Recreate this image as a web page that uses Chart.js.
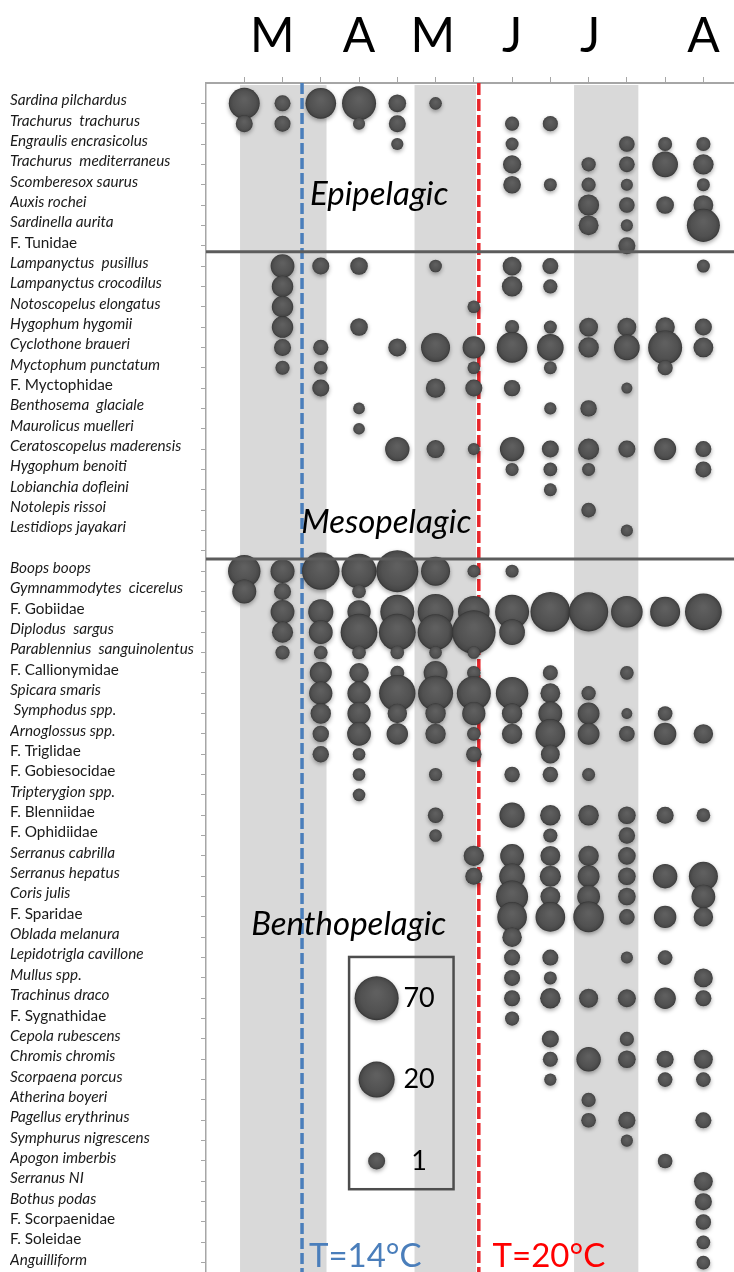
<!DOCTYPE html>
<html>
<head>
<meta charset="utf-8">
<script src="https://cdn.jsdelivr.net/npm/chart.js@4.4.1/dist/chart.umd.min.js"></script>
<style>
  html, body { margin: 0; padding: 0; background: #fff; overflow: hidden; }
  canvas { display: block; }
</style>
</head>
<body>
<canvas id="chart" width="734" height="1272" style="width:734px;height:1272px"></canvas>
<script>
// sampling dates (columns) and month header
const samplings = [1, 2, 3, 4, 5, 6, 7, 8, 9, 10, 11, 12, 13];
const months = ['M', 'A', 'M', 'J', 'J', 'A'];
const monthPos = [1.73, 4.0, 5.93, 8.0, 10.04, 13.0];
// shaded month bands (x from / to)
const bandFrom = [0.89, 5.45, 9.62];
const bandTo = [3.15, 7.06, 11.30];
// temperature thresholds
const tempX = [2.51, 7.13];
const tempLabels = ['T=14°C', 'T=20°C'];
// legend bubbles
const legendValues = [70, 20, 1];

const epiSpecies = ['Sardina pilchardus', 'Trachurus  trachurus', 'Engraulis encrasicolus', 'Trachurus  mediterraneus',
  'Scomberesox saurus', 'Auxis rochei', 'Sardinella aurita', 'F. Tunidae'];
const mesoSpecies = ['Lampanyctus  pusillus', 'Lampanyctus crocodilus', 'Notoscopelus elongatus', 'Hygophum hygomii',
  'Cyclothone braueri', 'Myctophum punctatum', 'F. Myctophidae', 'Benthosema  glaciale', 'Maurolicus muelleri',
  'Ceratoscopelus maderensis', 'Hygophum benoiti', 'Lobianchia dofleini', 'Notolepis rissoi', 'Lestidiops jayakari'];
const benthoSpecies = ['Boops boops', 'Gymnammodytes  cicerelus', 'F. Gobiidae', 'Diplodus  sargus',
  'Parablennius  sanguinolentus', 'F. Callionymidae', 'Spicara smaris', ' Symphodus spp.', 'Arnoglossus spp.',
  'F. Triglidae', 'F. Gobiesocidae', 'Tripterygion spp.', 'F. Blenniidae', 'F. Ophidiidae', 'Serranus cabrilla',
  'Serranus hepatus', 'Coris julis', 'F. Sparidae', 'Oblada melanura', 'Lepidotrigla cavillone', 'Mullus spp.',
  'Trachinus draco', 'F. Sygnathidae', 'Cepola rubescens', 'Chromis chromis', 'Scorpaena porcus', 'Atherina boyeri',
  'Pagellus erythrinus', 'Symphurus nigrescens', 'Apogon imberbis', 'Serranus NI', 'Bothus podas', 'F. Scorpaenidae',
  'F. Soleidae', 'Anguilliform'];

// abundance per species, one value per sampling (0 = absent)
const epiAbund = [
  [9, 0.85, 8.5, 14.5, 1.1, 0.5, 0, 0, 0, 0, 0, 0, 0],
  [1, 0.85, 0, 0.46, 1, 0, 0, 0.64, 0.75, 0, 0, 0, 0],
  [0, 0, 0, 0, 0.47, 0, 0, 0.53, 0, 0, 0.8, 0.62, 0.64],
  [0, 0, 0, 0, 0, 0, 0, 1.2, 0, 0.64, 0.8, 3.9, 1.7],
  [0, 0, 0, 0, 0, 0, 0, 1.1, 0.53, 0.64, 0.46, 0, 0.53],
  [0, 0, 0, 0, 0, 0, 0, 0, 0, 1.9, 0.8, 1.1, 1.55],
  [0, 0, 0, 0, 0, 0, 0, 0, 0, 1.55, 0.46, 0, 12.4],
  [0, 0, 0, 0, 0, 0, 0, 0, 0, 0, 1, 0, 0]
];
const mesoAbund = [
  [0, 2.9, 1, 1.1, 0, 0.5, 0, 1.33, 0.85, 0, 0, 0, 0.53],
  [0, 2, 0, 0, 0, 0, 0, 1.7, 0.64, 0, 0, 0, 0],
  [0, 2, 0, 0, 0, 0, 0.5, 0, 0, 0, 0, 0, 0],
  [0, 2, 0, 1.1, 0, 0, 0, 0.64, 0.53, 1.33, 1.33, 1.46, 1],
  [0, 1, 0.75, 0, 1.17, 6.6, 2.34, 8.5, 4.5, 1.7, 3.9, 14.5, 1.55],
  [0, 0.64, 0.59, 0, 0, 0, 0.5, 0, 0.53, 0, 0, 0.75, 0],
  [0, 0, 1, 0, 0, 1.46, 1, 0.91, 0, 0, 0.39, 0, 0],
  [0, 0, 0, 0.43, 0, 0, 0, 0, 0.47, 0.91, 0, 0, 0],
  [0, 0, 0, 0.43, 0, 0, 0, 0, 0, 0, 0, 0, 0],
  [0, 0, 0, 0, 3.2, 1.17, 0.46, 3.2, 1, 1.9, 1, 2.2, 0.85],
  [0, 0, 0, 0, 0, 0, 0, 0.53, 0.59, 0.53, 0, 0, 0.85],
  [0, 0, 0, 0, 0, 0, 0, 0, 0.53, 0, 0, 0, 0],
  [0, 0, 0, 0, 0, 0, 0, 0, 0, 0.69, 0, 0, 0],
  [0, 0, 0, 0, 0, 0, 0, 0, 0, 0, 0.46, 0, 0]
];
const benthoAbund = [
  [11.3, 3, 24.8, 16.9, 51, 6.6, 0.5, 0.53, 0, 0, 0, 0, 0],
  [3, 1, 0, 0.59, 0, 0, 0, 0, 0, 0, 0, 0, 0],
  [0, 2.9, 3.6, 2.65, 14.5, 19.2, 9.9, 14.5, 35.7, 32.6, 9.9, 7.7, 22.5],
  [0, 1.9, 2.9, 22.5, 22.5, 19.2, 65, 3.9, 0, 0, 0, 0, 0],
  [0, 0.64, 0.59, 0.59, 0.59, 0.5, 0.5, 0, 0, 0, 0, 0, 0],
  [0, 0, 2.2, 1.46, 0.62, 2.9, 0.59, 0, 0.73, 0, 0.59, 0, 0],
  [0, 0, 2.65, 2.65, 21, 16.9, 14.5, 11.3, 1.55, 0.64, 0, 0, 0],
  [0, 0, 1.7, 2.65, 1.46, 1.7, 2.65, 1.7, 2.9, 2.13, 0.38, 0.69, 0],
  [0, 0, 0.91, 2.9, 2, 1.7, 0.59, 1.7, 7.3, 2.13, 0.8, 2.34, 1.46],
  [0, 0, 0.91, 0.5, 0, 0, 0.78, 0, 1.33, 0, 0, 0, 0],
  [0, 0, 0, 0.5, 0, 0.55, 0, 0.78, 0.78, 0.53, 0, 0, 0],
  [0, 0, 0, 0.5, 0, 0, 0, 0, 0, 0, 0, 0, 0],
  [0, 0, 0, 0, 0, 0.78, 0, 3.6, 1.7, 1.7, 1.1, 1, 0.59],
  [0, 0, 0, 0, 0, 0.5, 0, 0, 0.64, 0, 0.91, 0, 0],
  [0, 0, 0, 0, 0, 0, 1.7, 2.9, 1.55, 1.7, 1.1, 0, 0],
  [0, 0, 0, 0, 0, 0, 1, 3.9, 1.9, 2.13, 1.1, 3.2, 6.6],
  [0, 0, 0, 0, 0, 0, 0, 10.6, 1.55, 2.49, 1.1, 0, 2.9],
  [0, 0, 0, 0, 0, 0, 0, 7.3, 7.3, 8.5, 0.8, 2.34, 1.46],
  [0, 0, 0, 0, 0, 0, 0, 1.46, 0, 0, 0, 0, 0],
  [0, 0, 0, 0, 0, 0, 0, 0.85, 0.85, 0, 0.46, 0.69, 0],
  [0, 0, 0, 0, 0, 0, 0, 0.85, 0.53, 0, 0, 0, 1.33],
  [0, 0, 0, 0, 0, 0, 0, 0.85, 1.7, 1.37, 1.17, 2, 0.85],
  [0, 0, 0, 0, 0, 0, 0, 0.64, 0, 0, 0, 0, 0],
  [0, 0, 0, 0, 0, 0, 0, 0, 1, 0, 0.64, 0, 0],
  [0, 0, 0, 0, 0, 0, 0, 0, 0.73, 3.2, 1.1, 1, 1.33],
  [0, 0, 0, 0, 0, 0, 0, 0, 0.47, 0, 0, 0.69, 0.69],
  [0, 0, 0, 0, 0, 0, 0, 0, 0, 0.64, 0, 0, 0],
  [0, 0, 0, 0, 0, 0, 0, 0, 0, 0.69, 1, 0, 0.85],
  [0, 0, 0, 0, 0, 0, 0, 0, 0, 0, 0.46, 0, 0],
  [0, 0, 0, 0, 0, 0, 0, 0, 0, 0, 0, 0.69, 0],
  [0, 0, 0, 0, 0, 0, 0, 0, 0, 0, 0, 0, 1.33],
  [0, 0, 0, 0, 0, 0, 0, 0, 0, 0, 0, 0, 1],
  [0, 0, 0, 0, 0, 0, 0, 0, 0, 0, 0, 0, 0.78],
  [0, 0, 0, 0, 0, 0, 0, 0, 0, 0, 0, 0, 0.59],
  [0, 0, 0, 0, 0, 0, 0, 0, 0, 0, 0, 0, 0.59]
];

// rows: epi, meso, one empty row, bentho
const rowLabels = [...epiSpecies, ...mesoSpecies, '', ...benthoSpecies];
const rowAbund = [...epiAbund, ...mesoAbund, [], ...benthoAbund];

// bubble radius from abundance (log scale, matches the 1 / 20 / 70 key)
function radius(v) {
  return 8.5 + 3.18 * Math.log(v);
}

const points = [];
rowAbund.forEach((vals, i) => {
  vals.forEach((v, j) => {
    if (v > 0) points.push({x: samplings[j], y: i + 1, r: radius(v), v: v});
  });
});

const legendX = 4.46;
const legendRows = [45, 49, 53];
const legendPoints = legendValues.map((v, i) => ({x: legendX, y: legendRows[i], r: radius(v), v: v}));

function bubbleFill(c) {
  const chart = c.chart;
  const raw = c.raw;
  if (!raw || !chart.chartArea || !chart.scales.x) return '#4e4e4e';
  const cx = chart.scales.x.getPixelForValue(raw.x);
  const cy = chart.scales.y.getPixelForValue(raw.y);
  const r = raw.r;
  if (!isFinite(cx) || !isFinite(cy) || !isFinite(r)) return '#4e4e4e';
  const g = chart.ctx.createRadialGradient(cx, cy - r * 0.25, r * 0.1, cx, cy, r);
  g.addColorStop(0, '#5f5f5f');
  g.addColorStop(0.7, '#515151');
  g.addColorStop(0.9, '#474747');
  g.addColorStop(1, '#353535');
  return g;
}

const decor = {
  id: 'decor',
  beforeDatasetsDraw(chart) {
    const {ctx, chartArea: a, scales: {x, y}} = chart;
    ctx.save();
    ctx.fillStyle = '#d9d9d9';
    bandFrom.forEach((f, i) => {
      const x0 = x.getPixelForValue(f), x1 = x.getPixelForValue(bandTo[i]);
      ctx.fillRect(x0, a.top + 2, x1 - x0, a.bottom - a.top);
    });
    // temperature dashed lines
    ctx.lineWidth = 3.5;
    [['#4a7ebb', [11, 4]], ['#e8262b', [12, 4]]].forEach(([col, dash], i) => {
      ctx.strokeStyle = col;
      ctx.setLineDash(dash);
      const px = x.getPixelForValue(tempX[i]);
      ctx.beginPath();
      ctx.moveTo(px, a.top);
      ctx.lineTo(px, a.bottom);
      ctx.stroke();
    });
    ctx.restore();
    ctx.save();
    ctx.shadowColor = 'rgba(0,0,0,0.35)';
    ctx.shadowBlur = 4;
    ctx.shadowOffsetY = 2;
  },
  afterDatasetsDraw(chart) {
    const {ctx, chartArea: a, scales: {x, y}} = chart;
    ctx.restore();
    ctx.save();
    // group separators
    ctx.strokeStyle = '#5c5c5c';
    ctx.lineWidth = 3;
    [8.3, 23.4].forEach(v => {
      const py = y.getPixelForValue(v);
      ctx.beginPath();
      ctx.moveTo(a.left, py);
      ctx.lineTo(a.right, py);
      ctx.stroke();
    });
    // month header
    ctx.fillStyle = '#000';
    ctx.font = '48px Lato';
    ctx.textAlign = 'center';
    ctx.textBaseline = 'alphabetic';
    months.forEach((m, i) => ctx.fillText(m, x.getPixelForValue(monthPos[i]), a.top - 31));
    // group names
    ctx.textAlign = 'left';
    ctx.font = 'italic 33px Lato';
    ctx.fillText('Epipelagic', x.getPixelForValue(2.72), y.getPixelForValue(6.0));
    ctx.fillText('Mesopelagic', x.getPixelForValue(2.49), y.getPixelForValue(22.14));
    ctx.fillText('Benthopelagic', x.getPixelForValue(1.18), y.getPixelForValue(41.9));
    // temperature labels
    ctx.font = '33px Lato';
    ctx.fillStyle = '#4a7ebb';
    ctx.fillText(tempLabels[0], x.getPixelForValue(2.69), y.getPixelForValue(58.2));
    ctx.fillStyle = '#ff0000';
    ctx.fillText(tempLabels[1], x.getPixelForValue(7.49), y.getPixelForValue(58.2));
    // size key box
    ctx.strokeStyle = '#4d4d4d';
    ctx.lineWidth = 2.5;
    const bx0 = x.getPixelForValue(3.74), bx1 = x.getPixelForValue(6.47);
    const by0 = y.getPixelForValue(42.97), by1 = y.getPixelForValue(54.39);
    ctx.strokeRect(bx0, by0, bx1 - bx0, by1 - by0);
    ctx.fillStyle = '#000';
    ctx.font = '27px Lato';
    ctx.textAlign = 'center';
    ctx.textBaseline = 'middle';
    legendValues.forEach((v, i) => ctx.fillText(String(v), x.getPixelForValue(5.57), y.getPixelForValue(legendRows[i])));
    ctx.restore();
  }
};

new Chart(document.getElementById('chart'), {
  type: 'bubble',
  data: {
    datasets: [
      {data: points, backgroundColor: bubbleFill, borderWidth: 0, clip: false},
      {data: legendPoints, backgroundColor: bubbleFill, borderWidth: 0, clip: false}
    ]
  },
  options: {
    responsive: false,
    maintainAspectRatio: false,
    animation: false,
    devicePixelRatio: 1,
    layout: {autoPadding: false, padding: {left: 10, top: 0, right: 0, bottom: 0}},
    plugins: {legend: {display: false}, tooltip: {enabled: false}},
    scales: {
      x: {
        type: 'linear', position: 'top', min: 0, max: 13.8,
        afterBuildTicks: s => { s.ticks = samplings.map(v => ({value: v})); },
        afterFit: s => { s.height = 83; s.paddingLeft = 0; s.paddingRight = 0; },
        ticks: {display: false},
        grid: {drawOnChartArea: false, drawTicks: true, tickLength: 6, color: '#a6a6a6', lineWidth: 1},
        border: {display: true, color: '#a6a6a6', width: 2}
      },
      y: {
        type: 'linear', reverse: true, min: 0, max: 58.46,
        afterBuildTicks: s => { s.ticks = rowLabels.map((l, i) => ({value: i + 1})); },
        afterFit: s => { s.width = 196; s.paddingTop = 0; s.paddingBottom = 0; },
        ticks: {
          autoSkip: false, crossAlign: 'far', labelOffset: -3, padding: 8,
          color: '#1a1a1a',
          callback: v => rowLabels[v - 1] || '',
          font: c => {
            const lbl = c.tick ? rowLabels[c.tick.value - 1] || '' : '';
            return {family: 'Lato', size: 15.3, style: lbl.startsWith('F. ') ? 'normal' : 'italic'};
          }
        },
        grid: {drawOnChartArea: false, drawTicks: true, tickLength: 5, color: '#a6a6a6', lineWidth: 1},
        border: {display: true, color: '#a6a6a6', width: 1.5}
      }
    }
  },
  plugins: [decor]
});
</script>
</body>
</html>
